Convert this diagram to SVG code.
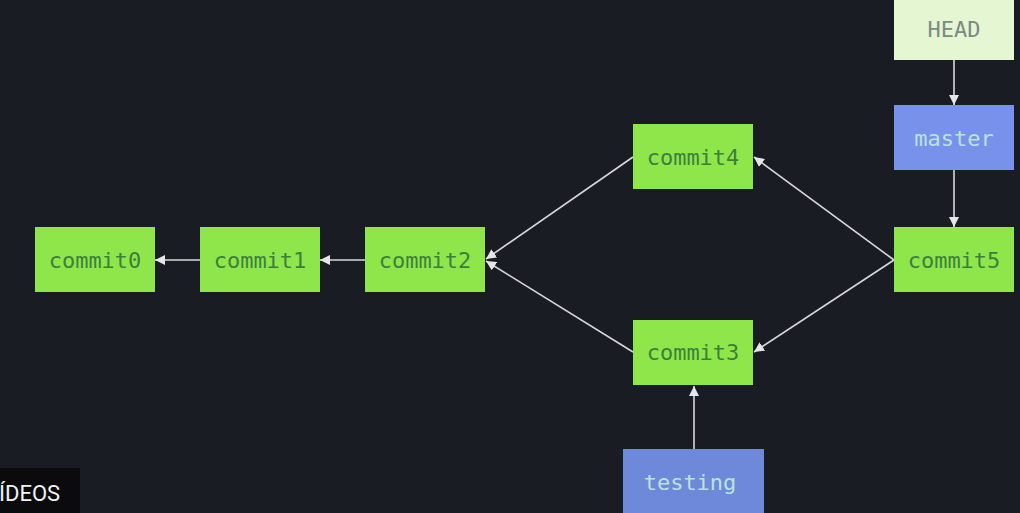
<svg xmlns="http://www.w3.org/2000/svg" width="1020" height="513" viewBox="0 0 1020 513">
<defs>
<marker id="ah" viewBox="0 0 10 10" refX="10" refY="5" markerWidth="10" markerHeight="10" markerUnits="userSpaceOnUse" orient="auto">
<path d="M0,0 L10,5 L0,10 z" fill="#e6e6e6"/>
</marker>
<style>
.c rect{fill:#8fe64b}
.c text{fill:#3d7f3c}
.b rect{fill:#7891ea}
.b text{fill:#b9e3da}
.h rect{fill:#e4f6d2}
.h text{fill:#7d8a83}
text{font-family:"DejaVu Sans Mono","Liberation Mono",monospace;font-size:22px;text-anchor:middle;dominant-baseline:central}
.e line{stroke:#d8d8d8;stroke-width:1.6;marker-end:url(#ah)}
</style>
</defs>
<rect width="1020" height="513" fill="#1a1c24"/>
<g class="e" id="connectors">
<line x1="954" y1="60" x2="954" y2="105"/>
<line x1="954" y1="170" x2="954" y2="227"/>
<line x1="200" y1="260" x2="155" y2="260"/>
<line x1="365" y1="260" x2="320" y2="260"/>
<line x1="633" y1="157" x2="486" y2="259"/>
<line x1="633" y1="352" x2="486" y2="261"/>
<line x1="894" y1="260" x2="754" y2="157"/>
<line x1="894" y1="260" x2="754" y2="352"/>
<line x1="694" y1="449" x2="694" y2="386"/>
</g>
<g id="head" class="h"><rect x="894" y="0" width="120" height="60"/><text x="954" y="29">HEAD</text></g>
<g id="master" class="b"><rect x="894" y="105" width="120" height="65"/><text x="954" y="138">master</text></g>
<g id="commit5" class="c"><rect x="894" y="227" width="120" height="65"/><text x="954" y="260">commit5</text></g>
<g id="commit0" class="c"><rect x="35" y="227" width="120" height="65"/><text x="95" y="260">commit0</text></g>
<g id="commit1" class="c"><rect x="200" y="227" width="120" height="65"/><text x="260" y="260">commit1</text></g>
<g id="commit2" class="c"><rect x="365" y="227" width="120" height="65"/><text x="425" y="260">commit2</text></g>
<g id="commit4" class="c"><rect x="633" y="124" width="120" height="65"/><text x="693" y="157">commit4</text></g>
<g id="commit3" class="c"><rect x="633" y="320" width="120" height="65"/><text x="693" y="352">commit3</text></g>
<g id="testing" class="b"><rect x="623" y="449" width="141" height="70" style="fill:#6f89da"/><text x="690" y="482">testing</text></g>
<g id="videos"><rect x="0" y="468" width="80" height="45" fill="#0b0b0d"/><text x="-1" y="493" style="font-family:Roboto,'Liberation Sans',sans-serif;font-size:22px;fill:#f2f2f2;text-anchor:start">ÍDEOS</text></g>
</svg>
